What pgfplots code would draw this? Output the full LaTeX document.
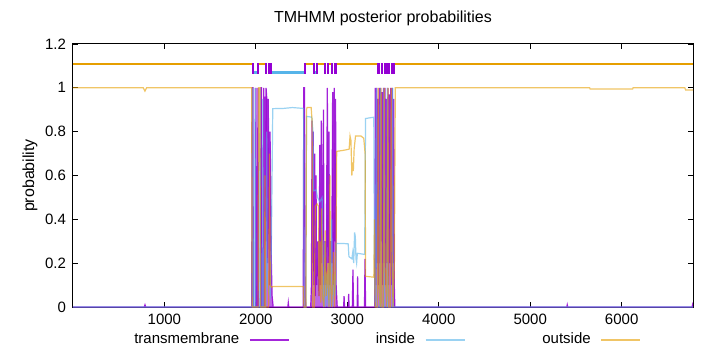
\documentclass[border=0pt]{standalone}
\usepackage{pgfplots}
\pgfplotsset{compat=1.18}
\usepackage{fontspec}
\setmainfont{Liberation Sans}
\definecolor{tmc}{HTML}{9400D3}
\definecolor{inc}{HTML}{56B4E9}
\definecolor{outc}{HTML}{E69F00}
\begin{document}
\begin{tikzpicture}
\begin{axis}[
  name=ax,
  scale only axis,
  width=310pt, height=131.5pt,
  xmin=1, xmax=6780, ymin=0, ymax=1.2,
  xtick={1000,2000,3000,4000,5000,6000},
  ytick={0,0.2,0.4,0.6,0.8,1,1.2},
  scaled x ticks=false,
  /pgf/number format/1000 sep={},
  /pgf/number format/assume math mode=true,
  font=\fontsize{8}{9.6}\selectfont,
  tick label style={font=\fontsize{7.5}{9}\selectfont},
  major tick length=2.5pt,
  tick style={black, line width=0.4pt},
  axis line style={black, line width=0.5pt},
  every axis title shift=0pt,
  title={TMHMM posterior probabilities},
  title style={at={(axis description cs:0.5,1.099)}, anchor=center},
  ylabel={probability},
  ylabel style={at={(axis description cs:-0.0694,0.5)}, anchor=center},
  unbounded coords=jump,
  legend columns=3,
  legend plot pos=right,
  legend image code/.code={\draw[#1, fill=none] (0pt,0pt) -- (19.5pt,0pt);},
  legend style={draw=none, fill=none, at={(axis description cs:0.505,-0.1255)}, anchor=center,
    inner sep=0pt, font=\fontsize{7.5}{9}\selectfont,
    /tikz/every odd column/.style={column sep=3pt},
    /tikz/every even column/.style={column sep=8.75pt}},
]
% transmembrane
\addplot[draw=tmc, draw opacity=0.85, fill=tmc, fill opacity=0.6, line width=0.6pt] coordinates {
(1,0) (780,0) (788,0.01) (796,0) (1955,0) (1960,1) (1968,1) (1973,0) (1996,0) (2001,1) (2008,0) (2018,0) (2023,1) (2030,0)
(2052,0) (2056,1) (2062,1) (2068,0) (2082,0) (2086,1) (2092,0) (2098,0) (2102,0.96) (2108,0.3) (2112,1) (2120,0.95)
(2128,0.2) (2135,0.95) (2142,0.7) (2150,0.1) (2155,0.8) (2162,0.6) (2170,0.2) (2178,0.05) (2190,0)
(2350,0) (2355,0.02) (2360,0) (2518,0) (2524,1) (2532,1) (2540,0.05) (2548,0) (2600,0) (2608,0.1) (2615,0.85)
(2622,0.2) (2628,0.8) (2635,0.1) (2645,0.7) (2650,0.05) (2658,0.6) (2665,0.1) (2680,0.3) (2690,0.05) (2700,0.74)
(2706,0.1) (2715,0.85) (2720,0.2) (2740,0.9) (2745,0.1) (2760,0.3) (2768,0.1) (2782,1) (2788,0.2) (2800,0.8)
(2806,0.1) (2820,0.3) (2830,0.2) (2840,0.98) (2846,0.1) (2858,1) (2864,0.3) (2872,0.95) (2878,0.1) (2890,0)
(2960,0) (2965,0.05) (2970,0) (3010,0) (3015,0.06) (3020,0) (3055,0) (3062,0.17) (3068,0) (3108,0) (3113,0.14)
(3118,0) (3188,0) (3194,0.22) (3200,0) (3300,0) (3306,1) (3312,0.1) (3322,1) (3328,0.2) (3335,0.95) (3342,0.1)
(3350,1) (3356,0.2) (3364,1) (3370,0.3) (3380,0.98) (3386,0.1) (3395,1) (3402,0.2) (3412,1) (3418,0.1) (3428,0.95)
(3434,0.2) (3444,1) (3450,0.1) (3460,0.97) (3466,0.2) (3476,1) (3482,0.1) (3492,1) (3498,0.2) (3508,0.95)
(3514,0.1) (3520,0) (5400,0) (5405,0.01) (5410,0) (6770,0) (6775,0.01) (6780,0)
} \closedcycle;
\addlegendentry{\makebox[52pt][r]{transmembrane}}
% inside
\addplot[draw=inc, draw opacity=0.6, line width=0.6pt] coordinates {
(1,0) (1960,0) (1966,1) (1972,0) (1985,0) (1990,1) (1998,0) (2040,0) (2045,1) (2052,0) (2070,0) (2075,0.95) (2082,0)
(2110,0) (2118,0.8) (2125,0.1) (2160,0.05) (2170,0.3) (2178,0.6) (2185,0.905) (2300,0.906) (2400,0.91) (2522,0.906)
(2528,0) (2548,0) (2554,0.87) (2612,0.866) (2625,0.8) (2632,0.53) (2660,0.534) (2675,0.5) (2700,0.48) (2725,0.5)
(2732,0.05) (2740,0) (2755,0.3) (2762,0) (2780,0.15) (2790,0) (2800,0.2) (2810,0) (2830,0.4) (2838,0) (2860,0.15)
(2870,0.05) (2880,0.29) (2950,0.29) (3010,0.288) (3018,0.23) (3050,0.22) (3060,0.25) (3070,0.2) (3080,0.34)
(3088,0.32) (3095,0.22) (3102,0.2) (3110,0.245) (3190,0.24) (3200,0.86) (3290,0.866) (3296,0.2) (3305,0)
(3318,1) (3325,0) (3355,0) (3362,1) (3368,0) (3395,0) (3400,1) (3408,0) (3432,0) (3438,1) (3445,0) (3490,0)
(3496,1) (3502,0) (3530,0) (6780,0)
};
\addlegendentry{\makebox[52pt][r]{inside}}
% outside
\addplot[draw=outc, draw opacity=0.6, line width=0.6pt] coordinates {
(1,1) (770,1) (788,0.985) (805,1) (1955,1) (1960,0) (2025,0) (2030,1) (2045,1) (2050,0) (2095,0) (2100,0.6)
(2106,0) (2140,0) (2150,0.7) (2158,0.1) (2170,0.09) (2183,0.093) (2300,0.094) (2520,0.093) (2526,0) (2548,0)
(2554,0.9) (2560,0.91) (2605,0.91) (2615,0.85) (2622,0) (2640,0) (2650,0.46) (2670,0.47) (2685,0.46) (2690,0.05)
(2700,0.3) (2710,0.02) (2720,0.45) (2728,0.05) (2745,0) (2760,0.35) (2770,0.05) (2790,0.2) (2800,0) (2810,0.6)
(2818,0.1) (2830,0) (2850,0.25) (2860,0) (2878,0.3) (2884,0.71) (2960,0.715) (3020,0.72) (3030,0.78) (3040,0.76)
(3050,0.6) (3058,0.66) (3066,0.62) (3075,0.72) (3090,0.78) (3150,0.78) (3180,0.77) (3195,0.7) (3200,0.14)
(3290,0.136) (3298,0.4) (3305,0) (3330,0) (3338,1) (3345,0.1) (3360,0) (3370,1) (3378,0) (3395,0) (3405,1)
(3412,0.2) (3430,0) (3445,1) (3452,0) (3470,0) (3480,1) (3488,0.3) (3500,0) (3515,0.2) (3525,1) (5650,1)
(5655,0.995) (6120,0.995) (6125,1) (6690,1) (6700,0.99) (6780,0.99)
};
\addlegendentry{\makebox[52pt][r]{outside}}
% topology: outside segments
\addplot[forget plot, draw=outc, line width=1.2pt] coordinates {
(1,1.11) (1961,1.11) (1961,nan) (2034,1.11) (2103,1.11) (2103,nan) (2548,1.11) (2621,1.11) (2621,nan)
(2679,1.11) (2745,1.11) (2745,nan) (2803,1.11) (2825,1.11) (2825,nan) (2884,1.11) (3328,1.11) (3328,nan)
(3521,1.11) (6780,1.11)
};
% topology: inside segments
\addplot[forget plot, draw=inc, line width=1.2pt] coordinates {
(1976,1.07) (2015,1.07) (2015,nan) (2173,1.07) (2526,1.07) (2526,nan) (2642,1.07) (2657,1.07)
};
% topology: transmembrane boxes
\addplot[forget plot, draw=tmc, line width=5.6pt] coordinates {
(1961,1.088) (1976,1.088) (1976,nan) (2015,1.088) (2034,1.088) (2034,nan) (2103,1.088) (2125,1.088) (2125,nan)
(2131,1.088) (2173,1.088) (2173,nan) (2526,1.088) (2548,1.088) (2548,nan) (2621,1.088) (2642,1.088) (2642,nan)
(2657,1.088) (2679,1.088) (2679,nan) (2745,1.088) (2767,1.088) (2767,nan) (2774,1.088) (2803,1.088) (2803,nan)
(2825,1.088) (2847,1.088) (2847,nan) (2854,1.088) (2884,1.088) (2884,nan) (3328,1.088) (3357,1.088) (3357,nan)
(3365,1.088) (3393,1.088) (3393,nan) (3401,1.088) (3430,1.088) (3430,nan) (3437,1.088) (3466,1.088) (3466,nan)
(3474,1.088) (3521,1.088)
};
\end{axis}
\pgfresetboundingbox
\path[use as bounding box] ([xshift=-36.5pt,yshift=-22.5pt]ax.south west) rectangle ([xshift=13.5pt,yshift=22pt]ax.north east);
\end{tikzpicture}
\end{document}
